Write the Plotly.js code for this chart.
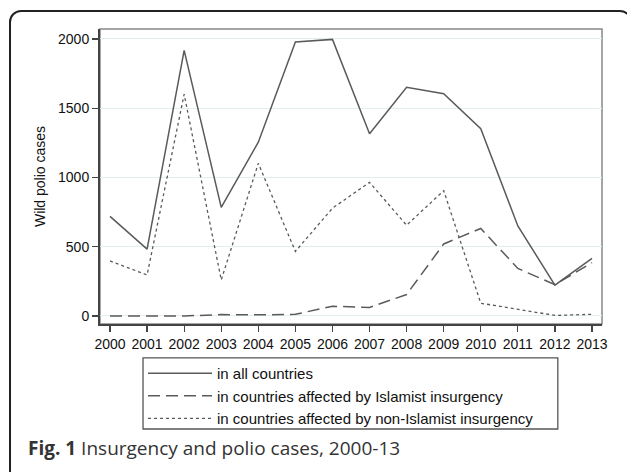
<!DOCTYPE html>
<html>
<head>
<meta charset="utf-8">
<script src="https://cdn.plot.ly/plotly-3.0.1.min.js"></script>
<style>
  html, body { margin: 0; padding: 0; background: #fff; }
  #wrap { position: relative; width: 627px; height: 472px; overflow: hidden; }
  #chart { position: absolute; left: 0; top: 0; width: 627px; height: 472px; }
  #frame { position: absolute; left: 9px; top: 10px; width: 619px; height: 520px;
           border: 2px solid #222; border-radius: 12px; pointer-events: none; }
</style>
</head>
<body>
<div id="wrap">
  <div id="chart"></div>
  <div id="frame"></div>
</div>
<script>
const years = [2000, 2001, 2002, 2003, 2004, 2005, 2006, 2007, 2008, 2009, 2010, 2011, 2012, 2013];
const allCountries = [719, 483, 1918, 784, 1255, 1979, 1997, 1315, 1651, 1604, 1352, 650, 223, 416];
const islamist = [0, 0, 0, 10, 8, 12, 70, 62, 155, 520, 632, 343, 226, 385];
const nonIslamist = [397, 296, 1601, 260, 1102, 466, 778, 965, 655, 905, 92, 48, 4, 12];
const seriesNames = [
  "in all countries",
  "in countries affected by Islamist insurgency",
  "in countries affected by non-Islamist insurgency"
];
const yTicks = [0, 500, 1000, 1500, 2000];
const yTitle = "Wild polio cases";
const captionBold = "Fig. 1";
const captionText = " Insurgency and polio cases, 2000-13";

const lineColor = "#5a5a5a";
const traces = [
  { x: years, y: allCountries, name: seriesNames[0], mode: "lines", type: "scatter",
    line: { color: lineColor, width: 1.5, dash: "solid" } },
  { x: years, y: islamist, name: seriesNames[1], mode: "lines", type: "scatter",
    line: { color: lineColor, width: 1.5, dash: "12px,6px" } },
  { x: years, y: nonIslamist, name: seriesNames[2], mode: "lines", type: "scatter",
    line: { color: lineColor, width: 1.3, dash: "3px,3px" } }
];

const fontFam = "'Liberation Sans', Arial, Helvetica, sans-serif";
const layout = {
  width: 627, height: 472,
  margin: { l: 100, r: 25, t: 29, b: 148 },
  paper_bgcolor: "#ffffff",
  plot_bgcolor: "#ffffff",
  font: { family: fontFam, size: 14, color: "#111" },
  showlegend: true,
  xaxis: {
    range: [1999.73, 2013.27],
    tickvals: years,
    ticktext: years.map(String),
    ticks: "outside", ticklen: 6, tickwidth: 1.3, tickcolor: "#444",
    showline: true, linecolor: "#444", linewidth: 2,
    showgrid: false, zeroline: false,
    tickfont: { family: fontFam, size: 14, color: "#111" }
  },
  yaxis: {
    range: [-58, 2072],
    tickvals: yTicks,
    ticktext: yTicks.map(String),
    ticks: "outside", ticklen: 6, tickwidth: 1.3, tickcolor: "#444",
    showline: true, linecolor: "#444", linewidth: 2,
    showgrid: true, gridcolor: "#e3eeee", gridwidth: 1,
    zeroline: false,
    tickfont: { family: fontFam, size: 14, color: "#111" },
    title: { text: yTitle, font: { family: fontFam, size: 14, color: "#111" }, standoff: 9 }
  },
  legend: {
    x: 0.0857, y: -0.112, xanchor: "left", yanchor: "top",
    borderwidth: 0, bgcolor: "rgba(0,0,0,0)",
    font: { family: fontFam, size: 15, color: "#111" },
    itemwidth: 64,
    tracegroupgap: 0
  },
  shapes: [
    { type: "rect", xref: "paper", yref: "paper", x0: 0, x1: 1, y0: 0, y1: 1,
      line: { color: "#888", width: 1.5 }, layer: "below" },
    { type: "rect", xref: "paper", yref: "paper", x0: 0.0857, x1: 0.912, y0: -0.356, y1: -0.115,
      line: { color: "#555", width: 1.3 }, fillcolor: "rgba(0,0,0,0)", layer: "above" }
  ],
  annotations: [
    { xref: "paper", yref: "paper", x: -0.148, y: -0.42, xanchor: "left", yanchor: "middle",
      showarrow: false, align: "left",
      text: "<b>" + captionBold + "</b>" + captionText,
      font: { family: "'Open Sans', 'Noto Sans', sans-serif", size: 19, color: "#333" } }
  ]
};

Plotly.newPlot("chart", traces, layout, { displayModeBar: false, staticPlot: true });
</script>
</body>
</html>
